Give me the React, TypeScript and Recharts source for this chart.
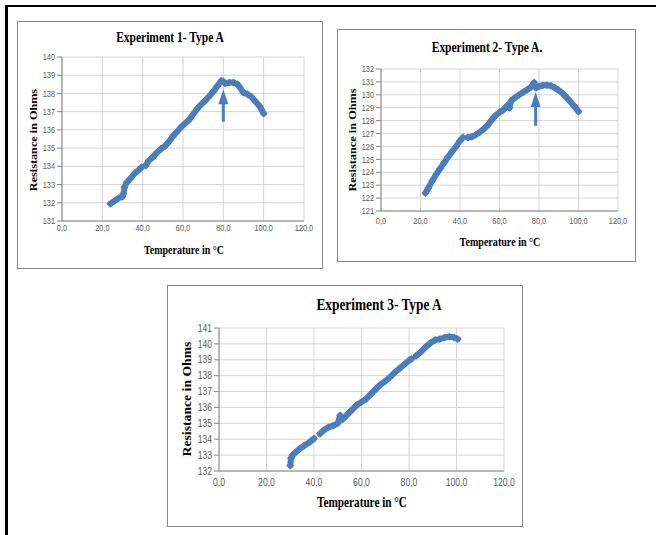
import React from "react";
import { LineChart, Line, XAxis, YAxis, CartesianGrid, ReferenceLine, ReferenceDot } from "recharts";

// ---- Data (Temperature °C, Resistance Ohms); null = gap in the trace ----
const exp1Temp = [24, 26, 28, 30, 30.5, 31, 32, 34, 36, 38, 39.5, 40.5, 41.5, 43, 45, 47, 49, 51, 53, 55, 57, 59, 61, 63, 65, 67, 69, 71, 73, 75, 77, 79, 80, 81, 83, 85, 87, 88, 90, 92, 94, 96, 98, 100];
const exp1Res = [131.95, 132.1, 132.25, 132.35, 132.5, 132.85, 133.1, 133.35, 133.6, 133.8, 133.95, null, 134.05, 134.3, 134.5, 134.75, 134.95, 135.1, 135.35, 135.65, 135.9, 136.15, 136.35, 136.55, 136.85, 137.15, 137.4, 137.6, 137.85, 138.1, 138.4, 138.7, 138.65, 138.55, 138.6, 138.6, 138.5, 138.35, 138.05, 137.95, 137.8, 137.55, 137.3, 136.9];

const exp2Temp = [22.5, 24, 26, 28, 30, 32, 34, 36, 38, 40, 41.5, 43, 44, 46, 48, 50, 52, 54, 56, 58, 60, 62, 64, 65, 66, 68, 70, 72, 74, 76, 77.5, 78.5, 80, 82, 84, 86, 88, 90, 92, 94, 96, 98, 100];
const exp2Res = [122.4, 122.8, 123.35, 123.85, 124.3, 124.75, 125.2, 125.6, 126.0, 126.45, 126.7, null, 126.7, 126.75, 126.9, 127.1, 127.35, 127.65, 128.05, 128.4, 128.65, 128.85, 129.2, 129.0, 129.55, 129.8, 130.0, 130.2, 130.4, 130.6, 130.95, 130.55, 130.65, 130.75, 130.75, 130.7, 130.55, 130.35, 130.1, 129.8, 129.45, 129.1, 128.7];

const exp3Temp = [30, 30.3, 31, 32, 34, 36, 38, 40, 41, 42.5, 44, 46, 48, 50, 51, 52, 54, 56, 58, 60, 62, 64, 66, 68, 70, 72, 74, 76, 78, 80, 81, 82, 83, 85, 87, 89, 91, 93, 95, 97, 99, 100.5];
const exp3Res = [132.35, 132.8, 133.0, 133.15, 133.4, 133.6, 133.8, 134.05, null, 134.35, 134.55, 134.75, 134.85, 135.0, 135.5, 135.25, 135.55, 135.85, 136.15, 136.35, 136.55, 136.85, 137.15, 137.45, 137.65, 137.9, 138.2, 138.45, 138.7, 138.95, 139.05, null, 139.25, 139.5, 139.8, 140.05, 140.25, 140.3, 140.4, 140.45, 140.4, 140.3];

const xTicks = [0, 20, 40, 60, 80, 100, 120];
const yTicks1 = [131, 132, 133, 134, 135, 136, 137, 138, 139, 140];
const yTicks2 = [121, 122, 123, 124, 125, 126, 127, 128, 129, 130, 131, 132];
const yTicks3 = [132, 133, 134, 135, 136, 137, 138, 139, 140, 141];

const titles = ["Experiment 1- Type A", "Experiment 2- Type A.", "Experiment 3- Type A"];
const xTitle = "Temperature in °C";
const yTitle = "Resistance in Ohms";

const BLUE = "#4a7ebb";
const GRID = "#d4d4d4";
const AXIS = "#868686";
const TICK = "#595959";
const SX = 0.82;

const build = (t: number[], r: (number | null)[]) => t.map((v, i) => ({ t: v, r: r[i] }));

const fmtX = (v: number) => v.toFixed(1).replace(".", ",");

const XTick = (p: any) => (
  <g transform={`translate(${p.x},${p.y})`}>
    <text transform={`scale(${SX},1)`} textAnchor="middle" dy="0.71em" fontSize={p.fs} fill={TICK} fontFamily="Liberation Sans">
      {fmtX(p.payload.value)}
    </text>
  </g>
);
const YTick = (p: any) => (
  <g transform={`translate(${p.x},${p.y})`}>
    <text transform={`scale(${SX},1)`} textAnchor="end" dy="0.35em" fontSize={p.fs} fill={TICK} fontFamily="Liberation Sans">
      {p.payload.value}
    </text>
  </g>
);

const Diamond = (p: any) => {
  if (p.cx == null || p.cy == null || p.value == null) return <g key={p.key} />;
  const s = 4;
  return <polygon key={p.key} points={`${p.cx},${p.cy - s} ${p.cx + s},${p.cy} ${p.cx},${p.cy + s} ${p.cx - s},${p.cy}`} fill={BLUE} />;
};

type Arrow = { t: number; bottom: number; base: number; tip: number };

type PanelProps = {
  left: number; top: number; width: number; height: number;
  data: any[]; yTicks: number[]; margin: any; yWidth: number;
  fs: number; xMargin: number; arrow?: Arrow;
  title: string; titleX: number; titleY: number; titleFs: number;
  xtX: number; xtY: number; ytX: number; ytY: number; axFs: number;
};

const txt = (s: string, x: number, y: number, fs: number, rot = false) => (
  <div
    style={{
      position: "absolute", left: x, top: y, whiteSpace: "nowrap",
      fontFamily: "'Liberation Serif', serif", fontWeight: "bold", fontSize: fs, color: "#000", lineHeight: 1,
      transform: rot ? "translate(-50%,-50%) rotate(-90deg) scaleY(0.9)" : `translate(-50%,-50%) scaleX(${SX})`,
    }}
  >
    {s}
  </div>
);

const Panel = (P: PanelProps) => (
  <>
    <div style={{ position: "absolute", left: P.left, top: P.top, width: P.width, height: P.height, border: `1px solid ${AXIS}`, boxSizing: "border-box" }} />
    <div style={{ position: "absolute", left: P.left, top: P.top }}>
      <LineChart width={P.width} height={P.height} data={P.data} margin={P.margin}>
        <CartesianGrid stroke={GRID} vertical horizontal />
        <XAxis
          type="number" dataKey="t" domain={[0, 120]} ticks={xTicks} interval={0}
          stroke={AXIS} tickLine={false} tickSize={0} tickMargin={P.xMargin} height={20}
          tick={(p: any) => <XTick {...p} fs={P.fs} />}
        />
        <YAxis
          type="number" domain={[P.yTicks[0], P.yTicks[P.yTicks.length - 1]]} ticks={P.yTicks} interval={0}
          stroke={AXIS} tickSize={5} tickMargin={2} width={P.yWidth}
          tick={(p: any) => <YTick {...p} fs={P.fs} />}
        />
        <Line
          dataKey="r" stroke={BLUE} strokeWidth={6} strokeLinejoin="round" strokeLinecap="round"
          dot={Diamond} activeDot={false} isAnimationActive={false} connectNulls={false}
        />
        {P.arrow && (
          <ReferenceLine
            segment={[{ x: P.arrow.t, y: P.arrow.bottom }, { x: P.arrow.t, y: P.arrow.base }]}
            stroke={BLUE} strokeWidth={3}
          />
        )}
        {P.arrow && (
          <ReferenceDot
            x={P.arrow.t} y={P.arrow.tip} r={1}
            shape={(p: any) => (
              <polygon points={`${p.cx},${p.cy} ${p.cx - 5},${p.cy + 15} ${p.cx + 5},${p.cy + 15}`} fill={BLUE} />
            )}
          />
        )}
      </LineChart>
    </div>
    {txt(P.title, P.titleX, P.titleY, P.titleFs)}
    {txt(xTitle, P.xtX, P.xtY, P.axFs)}
    {txt(yTitle, P.ytX, P.ytY, P.axFs, true)}
  </>
);

export default function App() {
  return (
    <div style={{ position: "absolute", left: 0, top: 0, width: 656, height: 535, background: "#fff", overflow: "hidden" }}>
      {/* outer black frame */}
      <div style={{ position: "absolute", left: 5, top: 5, width: 651, height: 2, background: "#000" }} />
      <div style={{ position: "absolute", left: 5, top: 5, width: 3, height: 530, background: "#000" }} />

      <Panel
        left={17} top={21} width={306} height={248}
        data={build(exp1Temp, exp1Res)} yTicks={yTicks1}
        margin={{ top: 36, right: 19, bottom: 28, left: 5 }} yWidth={40}
        fs={9} xMargin={4}
        arrow={{ t: 80, bottom: 136.45, base: 137.5, tip: 138.23 }}
        title={titles[0]} titleX={170} titleY={38} titleFs={14}
        xtX={184} xtY={250} ytX={33} ytY={140} axFs={12.2}
      />
      <Panel
        left={337} top={29} width={299} height={233}
        data={build(exp2Temp, exp2Res)} yTicks={yTicks2}
        margin={{ top: 40, right: 18, bottom: 31, left: 4 }} yWidth={40}
        fs={9} xMargin={7}
        arrow={{ t: 78.3, bottom: 127.6, base: 129.2, tip: 130.22 }}
        title={titles[1]} titleX={487} titleY={48} titleFs={14}
        xtX={500} xtY={242} ytX={353} ytY={140} axFs={12.3}
      />
      <Panel
        left={167} top={285} width={356} height={242}
        data={build(exp3Temp, exp3Res)} yTicks={yTicks3}
        margin={{ top: 43, right: 19, bottom: 36, left: 7 }} yWidth={45}
        fs={10.5} xMargin={8}
        title={titles[2]} titleX={379} titleY={305} titleFs={16.3}
        xtX={362} xtY={503} ytX={187} ytY={399} axFs={13.7}
      />
    </div>
  );
}
